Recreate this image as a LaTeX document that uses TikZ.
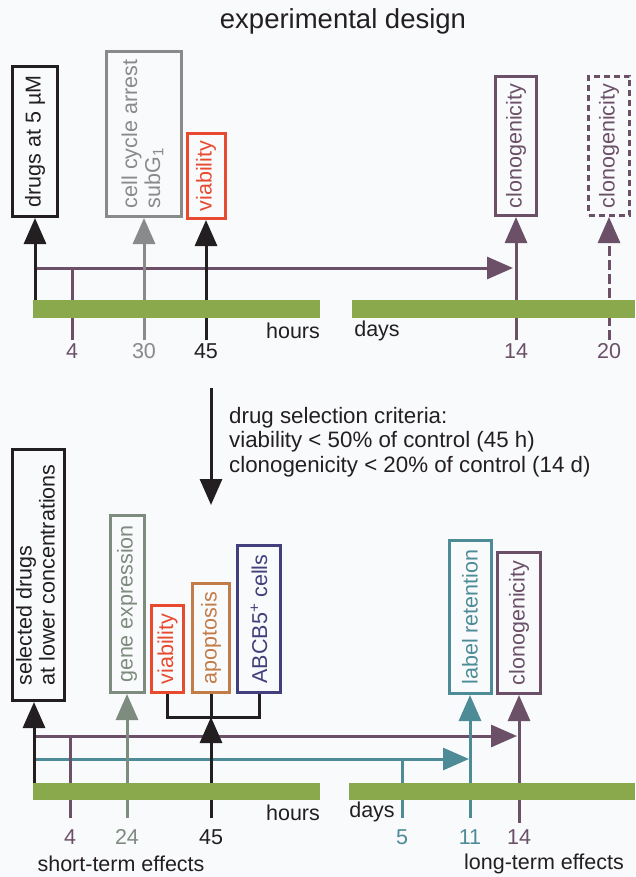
\documentclass[tikz,border=0pt]{standalone}
\usepackage{fontspec}
\setmainfont{Liberation Sans}
\usepackage{graphicx}
\usepackage{tikz}
\usetikzlibrary{positioning}
\usetikzlibrary{calc}
\usetikzlibrary{arrows.meta}

\definecolor{inkblack}{HTML}{231F20}
\definecolor{clonopurple}{HTML}{6B5068}
\definecolor{cyclegray}{HTML}{8A8A8A}
\definecolor{viared}{HTML}{E84A2F}
\definecolor{bargreen}{HTML}{8AA84C}
\definecolor{labelteal}{HTML}{4D8C96}
\definecolor{genegray}{HTML}{7E8B7F}
\definecolor{apopbrown}{HTML}{C27C48}
\definecolor{abcbnavy}{HTML}{433F7C}
\definecolor{paper}{HTML}{F9FAFC}

\begin{document}
\begin{tikzpicture}[
		x=1pt, y=-1pt,
		every node/.style = {
			font=\fontsize{21.5}{23}\selectfont,
			inner sep=0pt
		},
		readout/.style = {
			draw,
			line width=3pt,
			align=left
		},
		pointer/.style = {
			line width=3pt,
			-{Triangle[width=22pt,length=26pt]}
		},
		tick/.style = {
			line width=3pt
		}
		]
		\fill[paper] (0,0) rectangle (635,877);
		\useasboundingbox (0,0) rectangle (635,877);

		\node[font=\fontsize{27.5}{30}\selectfont, text=inkblack] (title) at (343,21) {experimental design};

		% first screen
		\node[readout, draw=inkblack, text=inkblack, minimum width=45, minimum height=150] (drugs) at (35,141.5) {\rotatebox{90}{drugs at 5 µM}};
		\node[readout, draw=cyclegray, text=cyclegray, minimum width=75, minimum height=165] (cycle) at (144,134) {\rotatebox{90}{\begin{tabular}{@{}l@{}}cell cycle arrest\\subG\textsubscript{1}\end{tabular}}};
		\node[readout, draw=viared, text=viared, minimum width=38, minimum height=85] (viab) at (206,176) {\rotatebox{90}{viability}};
		\node[readout, draw=clonopurple, text=clonopurple, minimum width=41, minimum height=139] (clono) at (516,146) {\rotatebox{90}{clonogenicity}};
		\node[readout, draw=clonopurple, text=clonopurple, minimum width=41, minimum height=139, dash pattern=on 6pt off 4pt] (clonolate) at (609,146) {\rotatebox{90}{clonogenicity}};

		\coordinate (t0) at (35,300);
		\coordinate (t4) at (72,340);
		\coordinate (t30) at (144,340);
		\coordinate (t45) at (206,340);
		\coordinate (t14) at (516,340);
		\coordinate (t20) at (609,340);
		\coordinate (h0) at (35,268);
		\coordinate (h14) at (513,268);

		\draw[pointer, clonopurple] (h0) -- (h14);
		\draw[tick, clonopurple] (t4 |- h0) -- (t4);
		\draw[pointer, inkblack] (t0) -- (drugs.south);
		\draw[pointer, cyclegray] (t30) -- (cycle.south);
		\draw[pointer, inkblack] (t45) -- (viab.south);
		\draw[pointer, clonopurple] (t14) -- (clono.south);
		\draw[pointer, clonopurple, dash pattern=on 10pt off 4pt] (t20) -- (clonolate.south);

		\fill[bargreen] (33,300) rectangle (320,318);
		\fill[bargreen] (352,300) rectangle (635,318);

		\node[text=clonopurple] (n4) at (72,351) {4};
		\node[text=cyclegray] (n30) at (144,351) {30};
		\node[text=inkblack] (n45) at (206,351) {45};
		\node[text=clonopurple] (n14) at (516,351) {14};
		\node[text=clonopurple] (n20) at (609,351) {20};
		\node[text=inkblack] (hours) at (293,331) {hours};
		\node[text=inkblack] (days) at (377,331) {days};

		% selection
		\coordinate (s0) at (211,388);
		\coordinate (s1) at (211,505);
		\draw[pointer, inkblack] (s0) -- (s1);
		\node[anchor=west, align=left, text=inkblack, font=\fontsize{22.3}{24.5}\selectfont] (criteria) at (229,442) {drug selection criteria:\\viability < 50\% of control (45 h)\\clonogenicity < 20\% of control (14 d)};

		% second screen
		\node[readout, draw=inkblack, text=inkblack, minimum width=52, minimum height=251, align=left] (selected) at (38.5,575) {\rotatebox{90}{\begin{tabular}{@{}l@{}}selected drugs\\at lower concentrations\end{tabular}}};
		\node[readout, draw=genegray, text=genegray, minimum width=34, minimum height=177] (gene) at (127,604) {\rotatebox{90}{gene expression}};
		\node[readout, draw=viared, text=viared, minimum width=32, minimum height=87] (viabtwo) at (167.5,649) {\rotatebox{90}{viability}};
		\node[readout, draw=apopbrown, text=apopbrown, minimum width=37, minimum height=109] (apop) at (211,638) {\rotatebox{90}{apoptosis}};
		\node[readout, draw=abcbnavy, text=abcbnavy, minimum width=43, minimum height=147] (abcb) at (259,619) {\rotatebox{90}{ABCB5\textsuperscript{+} cells}};
		\node[readout, draw=labelteal, text=labelteal, minimum width=42, minimum height=153] (retention) at (470,617) {\rotatebox{90}{label retention}};
		\node[readout, draw=clonopurple, text=clonopurple, minimum width=43, minimum height=141] (clonotwo) at (519,623) {\rotatebox{90}{clonogenicity}};

		\coordinate (b0) at (34,783);
		\coordinate (b4) at (70,818);
		\coordinate (b24) at (127,818);
		\coordinate (b45) at (211,818);
		\coordinate (b5) at (402,818);
		\coordinate (b11) at (470,818);
		\coordinate (b14) at (519,823);
		\coordinate (join) at (211,717);
		\coordinate (p0) at (34,736);
		\coordinate (p14) at (517,736);
		\coordinate (q0) at (34,759);
		\coordinate (q11) at (469,759);

		\draw[pointer, clonopurple] (p0) -- (p14);
		\draw[pointer, labelteal] (q0) -- (q11);
		\draw[tick, clonopurple] (b4 |- p0) -- (b4);
		\draw[tick, labelteal] (b5 |- q0) -- (b5);
		\draw[tick, inkblack] (viabtwo.south) |- (join) -| (abcb.south);
		\draw[tick, inkblack] (apop.south) -- (join);
		\draw[pointer, inkblack] (b0) -- (b0 |- selected.south);
		\draw[pointer, genegray] (b24) -- (gene.south);
		\draw[pointer, inkblack] (b45) -- (join);
		\draw[pointer, labelteal] (b11) -- (retention.south);
		\draw[pointer, clonopurple] (b14) -- (clonotwo.south);

		\fill[bargreen] (33,783) rectangle (320,800);
		\fill[bargreen] (349,783) rectangle (635,800);

		\node[text=clonopurple] (m4) at (70,837) {4};
		\node[text=genegray] (m24) at (127,837) {24};
		\node[text=inkblack] (m45) at (211,837) {45};
		\node[text=labelteal] (m5) at (402,837) {5};
		\node[text=labelteal] (m11) at (470,837) {11};
		\node[text=clonopurple] (m14) at (519,837) {14};
		\node[text=inkblack] (hourstwo) at (293,813) {hours};
		\node[text=inkblack] (daystwo) at (372,812) {days};
		\node[text=inkblack] (short) at (121,864) {short-term effects};
		\node[text=inkblack] (long) at (544,864) {long-term effects};
	\end{tikzpicture}
\end{document}
